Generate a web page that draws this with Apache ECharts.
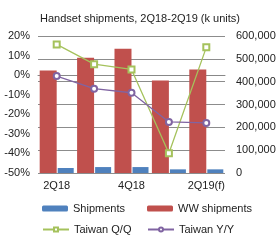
<!DOCTYPE html>
<html>
<head>
<meta charset="utf-8">
<script src="https://cdn.jsdelivr.net/npm/echarts@6/dist/echarts.min.js"></script>
<style>html,body{margin:0;padding:0;background:#fff;}#c{width:280px;height:240px;}</style>
</head>
<body>
<div id="c"></div>
<script>
var categories = ['2Q18', '3Q18', '4Q18', '1Q19', '2Q19(f)'];
var wwShipments = [449000, 505000, 544000, 405000, 453000];
var shipments = [22000, 26000, 26000, 16000, 16000];
var taiwanQQ = [15.7, 5.6, 2.9, -39.9, 14.2];
var taiwanYY = [-0.5, -6.9, -9.0, -23.9, -24.4];
var leftTicks = { min: -50, max: 20, interval: 10 };
var rightTicks = { min: 0, max: 600000, interval: 100000 };

function commas(v) { return String(v).replace(/\B(?=(\d{3})+(?!\d))/g, ','); }

var font = 'Liberation Sans, Arial, sans-serif';
var txt = { fontFamily: font, fontSize: 11, color: '#222' };
var chart = echarts.init(document.getElementById('c'), null, { renderer: 'canvas' });
function leg(name, left, top, h) {
  return { data: [name], left: left, top: top, itemWidth: 26, itemHeight: h, itemGap: 0,
    textStyle: { fontFamily: font, fontSize: 11, color: '#222' }, padding: 0 };
}
chart.setOption({
  animation: false,
  title: { text: 'Handset shipments, 2Q18-2Q19 (k units)', left: 'center', top: 8,
    textStyle: { fontFamily: font, fontSize: 11, fontWeight: 'normal', color: '#222' } },
  grid: { left: 38, right: 55, top: 36, bottom: 67, containLabel: false },
  legend: [
    leg('Shipments', 42, 203, 6),
    leg('WW shipments', 147, 203, 6),
    leg('Taiwan Q/Q', 42, 224, 5),
    leg('Taiwan Y/Y', 147, 224, 5)
  ],
  xAxis: { type: 'category', data: categories, boundaryGap: true,
    axisLine: { lineStyle: { color: '#888' } }, axisTick: { show: false },
    axisLabel: Object.assign({ interval: 1, margin: 7 }, txt) },
  yAxis: [
    { type: 'value', min: leftTicks.min, max: leftTicks.max, interval: leftTicks.interval,
      splitLine: { show: false }, axisLine: { show: false }, axisTick: { show: false },
      axisLabel: Object.assign({ margin: 8, formatter: '{value}%' }, txt) },
    { type: 'value', min: rightTicks.min, max: rightTicks.max, interval: rightTicks.interval,
      position: 'right', splitLine: { show: true, lineStyle: { color: '#8c8c8c', width: 1 } },
      axisLine: { show: false }, axisTick: { show: false },
      axisLabel: Object.assign({ margin: 11, formatter: function (v) { return commas(v); } }, txt) }
  ],
  series: [
    { name: 'WW shipments', type: 'bar', yAxisIndex: 1, data: wwShipments, barWidth: 17, barGap: '6%',
      itemStyle: { color: '#C0504D' } },
    { name: 'Shipments', type: 'bar', yAxisIndex: 1, data: shipments, barWidth: 16, barGap: '6%',
      itemStyle: { color: '#4F81BD' } },
    { name: 'Taiwan Q/Q', type: 'line', yAxisIndex: 0, data: taiwanQQ, symbol: 'emptyRect', symbolSize: 6,
      lineStyle: { color: '#A5C25C', width: 1.3 }, itemStyle: { color: '#A5C25C', borderWidth: 1 } },
    { name: 'Taiwan Y/Y', type: 'line', yAxisIndex: 0, data: taiwanYY, symbol: 'emptyCircle', symbolSize: 6,
      lineStyle: { color: '#8064A2', width: 1.3 }, itemStyle: { color: '#8064A2', borderWidth: 1 } }
  ]
});
</script>
</body>
</html>
